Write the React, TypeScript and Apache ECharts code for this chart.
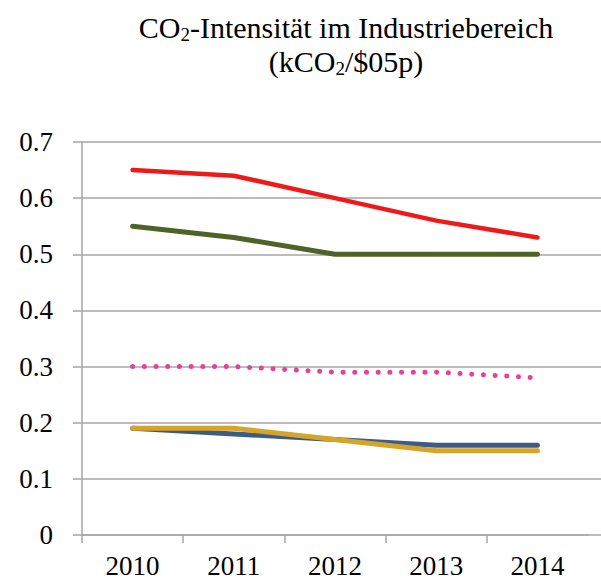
import React, { useEffect, useRef } from "react";
import * as echarts from "echarts";

const years = ["2010", "2011", "2012", "2013", "2014"];
const redSeries = [0.65, 0.64, 0.6, 0.56, 0.53];
const greenSeries = [0.55, 0.53, 0.5, 0.5, 0.5];
const pinkSeries = [0.3, 0.3, 0.29, 0.29, 0.28];
const blueSeries = [0.19, 0.18, 0.17, 0.16, 0.16];
const goldSeries = [0.19, 0.19, 0.17, 0.15, 0.15];

const FONT = "Liberation Serif";
const GRAY = "#a6a6a6";

export default function App() {
  const ref = useRef<HTMLDivElement>(null);
  useEffect(() => {
    document.body.style.margin = "0";
    const chart = echarts.init(ref.current!, null, { renderer: "svg" });
    const line = (name: string, data: number[], color: string, width: number, extra: any = {}) => ({
      name,
      type: "line",
      xAxisIndex: 0,
      yAxisIndex: 0,
      data,
      symbol: "none",
      lineStyle: { color, width, cap: "round", join: "round", ...extra },
    });
    chart.setOption({
      animation: false,
      textStyle: { fontFamily: FONT },
      title: {
        text:
          "{a|CO}{s|2}{a|-Intensität im Industriebereich}\n{a|(kCO}{s|2}{a|/$05p)}",
        left: 341,
        textAlign: "center",
        top: 5,
        textStyle: {
          fontFamily: FONT,
          fontWeight: "normal",
          rich: {
            a: { fontFamily: FONT, fontWeight: "normal", fontSize: 30, color: "#000", lineHeight: 34 },
            s: { fontFamily: FONT, fontWeight: "normal", fontSize: 19, color: "#000", lineHeight: 34, padding: [15, 0, 0, 0] },
          },
        },
      },
      grid: [
        { left: 82, top: 142, width: 506, height: 393 },
        { left: 82, top: 142, right: 0, height: 393 },
        { left: 82, top: 142, width: 404.8, height: 393 },
      ],
      xAxis: [
        {
          type: "category",
          gridIndex: 0,
          data: years,
          boundaryGap: true,
          axisLine: { lineStyle: { color: GRAY, width: 1.5 } },
          axisTick: { show: false },
          axisLabel: {
            margin: 17,
            interval: 0,
            fontFamily: FONT,
            fontSize: 27,
            fontWeight: "normal",
            color: "#000",
          },
          splitLine: { show: false },
        },
        { type: "value", gridIndex: 1, show: false, min: 0, max: 1 },
        {
          type: "value",
          gridIndex: 2,
          min: 0,
          max: 4,
          interval: 1,
          axisLine: { show: false },
          axisTick: { show: true, length: 8, lineStyle: { color: GRAY, width: 1.5 } },
          axisLabel: { show: false },
          splitLine: { show: false },
        },
      ],
      yAxis: [
        { type: "value", gridIndex: 0, min: 0, max: 0.7, interval: 0.1, show: false },
        {
          type: "value",
          gridIndex: 1,
          min: 0,
          max: 0.7,
          interval: 0.1,
          axisLine: { show: true, lineStyle: { color: GRAY, width: 1.5 } },
          axisTick: { show: true, length: 9, lineStyle: { color: GRAY, width: 1.5 } },
          axisLabel: {
            margin: 29,
            fontFamily: FONT,
            fontSize: 27,
            color: "#000",
          },
          splitLine: { show: true, lineStyle: { color: GRAY, width: 1.5 } },
        },
        { type: "value", gridIndex: 2, min: 0, max: 0.7, interval: 0.1, show: false },
      ],
      series: [
        line("Rot", redSeries, "#ee1a1a", 4.5),
        line("Grün", greenSeries, "#4f6228", 5),
        line("Rosa", pinkSeries, "#e6409a", 5, { type: [0.1, 11.6] }),
        line("Blau", blueSeries, "#3c5b86", 5),
        line("Gold", goldSeries, "#d4a52a", 5),
      ],
    });
    return () => chart.dispose();
  }, []);
  return <div ref={ref} style={{ width: 601, height: 582 }} />;
}
